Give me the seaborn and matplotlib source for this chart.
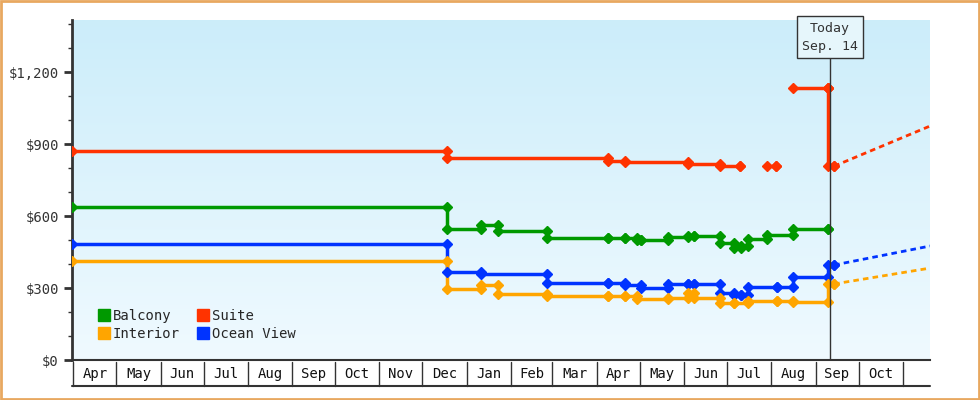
import numpy as np
import pandas as pd
import matplotlib.pyplot as plt
import matplotlib.dates as mdates
from matplotlib.patches import Rectangle
from matplotlib.lines import Line2D
import seaborn as sns

sns.set_style('white')
plt.rcParams['font.family'] = ['DejaVu Sans Mono', 'DejaVu Sans']

# price history (NaN = no data / gap)
balcony_dates = ['2023-03-31', '2023-12-18', '2024-01-11', '2024-01-23', '2024-02-26', '2024-04-09',
                 '2024-04-21', '2024-04-29', '2024-05-02', '2024-05-21', '2024-06-04', '2024-06-08',
                 '2024-06-26', '2024-07-06', '2024-07-11', '2024-07-16', '2024-07-29', '2024-08-16',
                 '2024-09-10']
balcony_price = [637, 545, 562, 537, 508, 508, 508, 500, 500, 512, 517, 517,
                 487, 467, 475, 504, 521, 545, 545]

suite_dates = ['2023-03-31', '2023-12-18', '2024-04-09', '2024-04-21', '2024-06-04', '2024-06-26',
               '2024-07-10', '2024-07-20', '2024-07-29', '2024-08-04', '2024-08-10', '2024-08-16',
               '2024-09-10', '2024-09-10', '2024-09-14']
suite_price = [870, 840, 830, 825, 817, 808, 808, np.nan, 808, 808, np.nan, 1135, 1135, 808, 808]

ocean_dates = ['2023-03-31', '2023-12-18', '2024-01-11', '2024-02-26', '2024-04-09', '2024-04-21',
               '2024-05-02', '2024-05-21', '2024-06-04', '2024-06-08', '2024-06-26', '2024-07-06',
               '2024-07-11', '2024-07-16', '2024-08-05', '2024-08-16', '2024-09-10', '2024-09-14']
ocean_price = [483, 367, 358, 321, 321, 312, 299, 317, 317, 317, 279, 271,
               271, 305, 305, 346, 396, 396]

interior_dates = ['2023-03-31', '2023-12-18', '2024-01-11', '2024-01-23', '2024-02-26', '2024-04-09',
                  '2024-04-21', '2024-04-29', '2024-05-21', '2024-06-04', '2024-06-08', '2024-06-26',
                  '2024-07-06', '2024-07-16', '2024-08-05', '2024-08-16', '2024-09-10', '2024-09-14']
interior_price = [412, 296, 312, 275, 265, 265, 265, 254, 258, 279, 258, 237,
                  237, 246, 246, 242, 317, 317]

# projections after today
proj_dates = ['2024-09-14', '2024-11-20']
suite_proj = [808, 975]
ocean_proj = [396, 475]
interior_proj = [317, 383]

months = ['Apr', 'May', 'Jun', 'Jul', 'Aug', 'Sep', 'Oct', 'Nov', 'Dec', 'Jan',
          'Feb', 'Mar', 'Apr', 'May', 'Jun', 'Jul', 'Aug', 'Sep', 'Oct']
today = '2024-09-11'

colors = {'Balcony': '#009900', 'Suite': '#ff3300', 'Interior': '#ffa500', 'Ocean View': '#0033ff'}

fig = plt.figure(figsize=(9.8, 4), dpi=100)
fig.patches.append(Rectangle((0.001, 0.002), 0.998, 0.996, transform=fig.transFigure,
                             fill=False, edgecolor='#e8a860', linewidth=2))
ax = fig.add_axes([72 / 980, 40 / 400, 858 / 980, 340 / 400])

x0, x1 = pd.Timestamp('2023-03-31'), pd.Timestamp('2024-11-20')
ax.set_xlim(x0, x1)
ax.set_ylim(0, 1417)

# gradient background
grad = np.linspace(0, 1, 256).reshape(-1, 1)
bg = np.array([0.94, 0.98, 1.0]) * (1 - grad)[..., None] + np.array([0.80, 0.93, 0.98]) * grad[..., None]
ax.imshow(bg, extent=[mdates.date2num(x0), mdates.date2num(x1), 0, 1417],
          aspect='auto', origin='lower', zorder=0)


def draw_series(dates, prices, color):
    df = pd.DataFrame({'d': pd.to_datetime(dates), 'p': prices})
    ok = df['p'].notna()
    grp = (~ok).cumsum()
    for _, seg in df[ok].groupby(grp[ok]):
        sns.lineplot(x=seg['d'], y=seg['p'], ax=ax, color=color, lw=2.5, estimator=None,
                     sort=False, drawstyle='steps-post', zorder=3)
        ax.plot(seg['d'], seg['p'], 'D', color=color, ms=5.5, zorder=4)
        prev = seg['p'].shift(1)
        ax.plot(seg['d'][1:], prev[1:], 'D', color=color, ms=5.5, zorder=4)


draw_series(balcony_dates, balcony_price, colors['Balcony'])
draw_series(suite_dates, suite_price, colors['Suite'])
draw_series(ocean_dates, ocean_price, colors['Ocean View'])
draw_series(interior_dates, interior_price, colors['Interior'])

pd_ = pd.to_datetime(proj_dates)
for vals, c in [(suite_proj, colors['Suite']), (ocean_proj, colors['Ocean View']),
                (interior_proj, colors['Interior'])]:
    ax.plot(pd_, vals, ls=(0, (2, 1.5)), color=c, lw=2, zorder=3)

# today marker
tday = pd.Timestamp(today)
ax.axvline(tday, color='#333333', lw=1, zorder=5)
ax.text(tday, 1345, 'Today\nSep. 14', ha='center', va='center', fontsize=9.5, color='#333333',
        linespacing=1.5, zorder=6,
        bbox=dict(boxstyle='square,pad=0.4', fc='#e6f6fb', ec='#333333', lw=1))

# axes styling
sns.despine(ax=ax, top=True, right=True)
ax.spines['left'].set_color('#333333')
ax.spines['left'].set_linewidth(2)
ax.spines['bottom'].set_color('#333333')
ax.spines['bottom'].set_linewidth(1.5)
ax.set_yticks([0, 300, 600, 900, 1200])
ax.set_yticklabels(['$0', '$300', '$600', '$900', '$1,200'])
ax.set_yticks(np.arange(0, 1417, 100), minor=True)
ax.tick_params(axis='y', which='major', length=6, width=2, color='#333333',
               labelsize=10, labelcolor='#333333', left=True)
ax.tick_params(axis='y', which='minor', length=3, width=1, color='#333333', left=True)
ax.set_xticks([])
ax.set_xlabel('')
ax.set_ylabel('')

# month boxes under the axis
starts = pd.date_range('2023-04-01', '2024-11-01', freq='MS')
trans = ax.get_xaxis_transform()
for s in starts:
    ax.add_line(Line2D([s, s], [-0.005, -0.075], transform=trans, color='#333333', lw=1, clip_on=False))
for s, lab in zip(starts[:-1], months):
    mid = s + (starts[starts > s][0] - s) / 2
    ax.text(mid, -0.04, lab, transform=trans, ha='center', va='center', fontsize=10, color='#111111')
ax.add_line(Line2D([x0, x1], [-0.075, -0.075], transform=trans, color='#333333', lw=1.5, clip_on=False))

# legend
handles = [Line2D([], [], marker='s', ls='', color=colors[k], ms=9) for k in ['Balcony', 'Interior', 'Suite', 'Ocean View']]
ax.legend(handles, ['Balcony', 'Interior', 'Suite', 'Ocean View'], ncol=2, loc='lower left',
          bbox_to_anchor=(0.015, 0.02), frameon=False, fontsize=10, handletextpad=0.1,
          columnspacing=1.2, labelspacing=0.3, handlelength=1)

fig.savefig('out.png', dpi=100)
